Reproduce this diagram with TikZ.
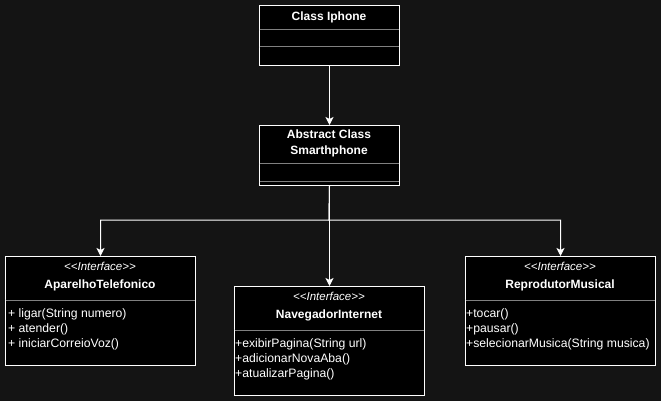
\documentclass[tikz,border=0pt]{standalone}
\usepackage{fontspec}
\setmainfont{Liberation Sans}[Ligatures=TeXOff]
\usetikzlibrary{arrows.meta,positioning}
\definecolor{fundo}{RGB}{20,20,20}
\begin{document}
\begin{tikzpicture}[x=1pt,y=-1pt]

\tikzset{classe/.style={draw=white,fill=black,line width=1pt,anchor=north west,inner sep=0pt},}
\tikzset{titulo/.style={text=white,font=\fontsize{12}{15}\selectfont\bfseries,inner sep=0pt,align=center},}
\tikzset{interf/.style={text=white,font=\fontsize{11.5}{13}\selectfont\itshape,inner sep=0pt},}
\tikzset{metodo/.style={text=white,font=\fontsize{12.2}{15}\selectfont,inner sep=0pt,anchor=west},}
\tikzset{sep/.style={draw=gray,double=black,double distance=0.6pt,line width=0.7pt},}
\tikzset{seta/.style={-{Stealth[length=8pt,width=8pt,inset=2pt]}, draw=white, line width=1pt},}

\fill[fundo] (0,0) rectangle (661,401);
\useasboundingbox (0,0) rectangle (661,401);

	\draw
		(259,5) node[classe,minimum width=140,minimum height=60] (iphone) {}
		(329,17) node[titulo] (iphoneT) {Class Iphone}

		(259,125) node[classe,minimum width=140,minimum height=60] (smart) {}
		(329,143) node[titulo] (smartT) {Abstract Class\\[1pt]Smarthphone}

		(5,256) node[classe,minimum width=190,minimum height=109] (tel) {}
		(100,266) node[interf] (telI) {<<Interface>>}
		(100,285) node[titulo] (telT) {AparelhoTelefonico}

		(234,286) node[classe,minimum width=190,minimum height=109] (nav) {}
		(329,296) node[interf] (navI) {<<Interface>>}
		(329,315) node[titulo] (navT) {NavegadorInternet}

		(465,256) node[classe,minimum width=190,minimum height=109] (mus) {}
		(560,266) node[interf] (musI) {<<Interface>>}
		(560,285) node[titulo] (musT) {ReprodutorMusical}
;

% compartimentos
\draw[sep] (259.5,30) -- (398.5,30); \draw[sep] (259.5,47.5) -- (398.5,47.5);
\draw[sep] (259.5,164) -- (398.5,164); \draw[sep] (259.5,182) -- (398.5,182);
\draw[sep] (5.5,299.5) -- (194.5,299.5);
\draw[sep] (234.5,329.5) -- (423.5,329.5);
\draw[sep] (465.5,299.5) -- (654.5,299.5);

% metodos
\draw
		(8,314) node[metodo] (tel1) {+ ligar(String numero)}
		(8,329) node[metodo] (tel2) {+ atender()}
		(8,344) node[metodo] (tel3) {+ iniciarCorreioVoz()}

		(235,344) node[metodo] (nav1) {+exibirPagina(String url)}
		(235,359) node[metodo] (nav2) {+adicionarNovaAba()}
		(235,374) node[metodo] (nav3) {+atualizarPagina()}

		(466,314) node[metodo] (mus1) {+tocar()}
		(466,329) node[metodo] (mus2) {+pausar()}
		(466,344) node[metodo] (mus3) {+selecionarMusica(String musica)}
;

\coordinate (juncao) at (329,220);

\draw[seta] (iphone) -- (smart);
\draw[seta] (smart) -- (nav);
\draw[seta] (smart.south) -- (juncao) -| (tel.north);
\draw[seta] (smart.south) -- (juncao) -| (mus.north);

\end{tikzpicture}
\end{document}
